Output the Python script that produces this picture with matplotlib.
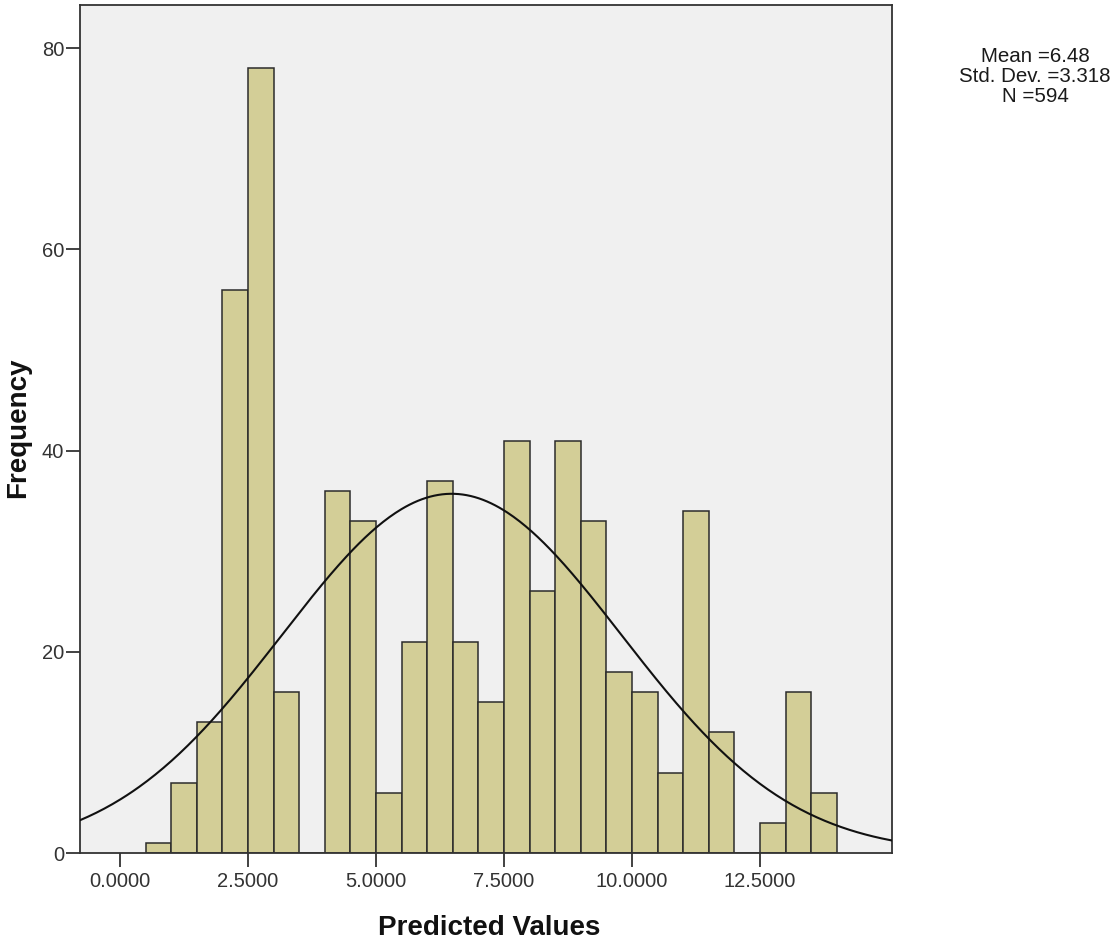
import numpy as np
import matplotlib
matplotlib.use("Agg")
import matplotlib.pyplot as plt

# histogram bins (left edges) and counts
bin_left = [0.5, 1.0, 1.5, 2.0, 2.5, 3.0, 3.5, 4.0, 4.5, 5.0, 5.5, 6.0, 6.5,
            7.0, 7.5, 8.0, 8.5, 9.0, 9.5, 10.0, 10.5, 11.0, 11.5, 12.0,
            12.5, 13.0, 13.5]
counts = [1, 7, 13, 56, 78, 16, 0, 36, 33, 6, 21, 37, 21,
          15, 41, 26, 41, 33, 18, 16, 8, 34, 12, 0,
          3, 16, 6]
bin_width = 0.5

mean_val = 6.48
std_val = 3.318
n_val = 594

x_ticks = [0.0, 2.5, 5.0, 7.5, 10.0, 12.5]
y_ticks = [0, 20, 40, 60, 80]

W, H = 1114, 946
fig = plt.figure(figsize=(W / 100, H / 100), dpi=100)
ax = fig.add_axes([80 / W, 1 - 853 / H, 812 / W, 848 / H])
ax.set_facecolor("#f0f0f0")

ax.bar(bin_left, counts, width=bin_width, align="edge",
       color="#d3ce97", edgecolor="#2b2b2b", linewidth=1.1, zorder=2)

# normal curve scaled to counts
xs = np.linspace(-0.78, 15.08, 400)
ys = n_val * bin_width / (std_val * np.sqrt(2 * np.pi)) * np.exp(-0.5 * ((xs - mean_val) / std_val) ** 2)
ax.plot(xs, ys, color="#111111", linewidth=1.5, zorder=3)

ax.set_xlim(-0.78, 15.08)
ax.set_ylim(0, 84.3)
ax.set_xticks(x_ticks)
ax.set_xticklabels([f"{v:.4f}" for v in x_ticks])
ax.set_yticks(y_ticks)

ax.tick_params(axis="both", direction="out", length=10, width=1.3,
               color="#333333", labelcolor="#333333", labelsize=14.5)
ax.tick_params(axis="x", pad=4)
ax.tick_params(axis="y", pad=1.5)
for lbl in ax.get_xticklabels() + ax.get_yticklabels():
    lbl.set_family("Liberation Sans")
for sp in ax.spines.values():
    sp.set_color("#333333")
    sp.set_linewidth(1.3)

ax.set_xlabel("Predicted Values", fontsize=20, fontweight="bold",
              family="Liberation Sans", color="#111111", va="center")
ax.xaxis.set_label_coords((489 - 80) / 812, (853 - 928) / 848)
ax.set_ylabel("Frequency", fontsize=20, fontweight="bold",
              family="Liberation Sans", color="#111111", va="center")
ax.yaxis.set_label_coords((18 - 80) / 812, (853 - 428) / 848)

stats_lines = [f"Mean ={mean_val}", f"Std. Dev. ={std_val}", f"N ={n_val}"]
for line, ypix in zip(stats_lines, [57, 77, 97]):
    fig.text(1035 / W, 1 - ypix / H, line, ha="center", va="center",
             fontsize=14.8, family="Liberation Sans", color="#1a1a1a")

fig.savefig("out.png", dpi=100)
